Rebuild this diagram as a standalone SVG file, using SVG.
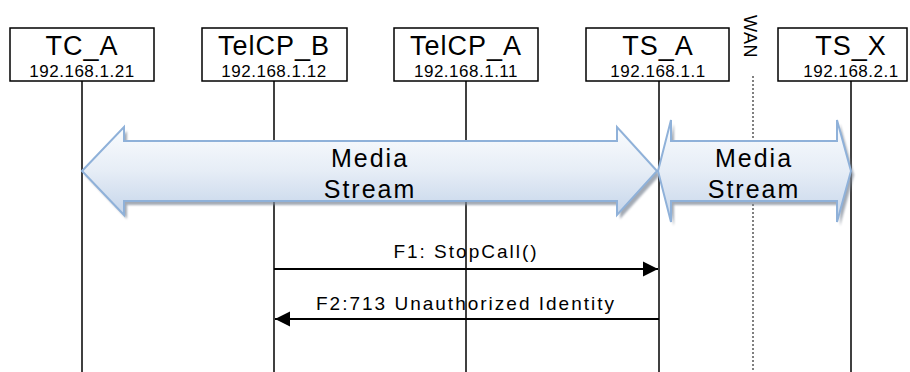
<svg xmlns="http://www.w3.org/2000/svg" width="910" height="372" viewBox="0 0 910 372">
<style>
.box{fill:#fff;stroke:#000;stroke-width:1.5}
.life{stroke:#000;stroke-width:1.5;fill:none}
.t{font-family:"Liberation Sans",Arial,sans-serif;fill:#000;text-anchor:middle}
.name{font-size:27px;letter-spacing:1px}
.ip{font-size:17px;letter-spacing:0.5px}
.ms{font-size:25px;letter-spacing:2px}
.msg{font-size:19px;letter-spacing:2px}
.fat{fill:url(#g);stroke:#8fb1d9;stroke-width:2;stroke-linejoin:miter}
.sh{fill:#7d8796;opacity:0.7;filter:url(#blur)}
.m{stroke:#000;stroke-width:2;fill:none}
</style>
<defs>
<linearGradient id="g" x1="0" y1="0" x2="0" y2="1">
<stop offset="0" stop-color="#fafcfe"/>
<stop offset="0.5" stop-color="#e6edf6"/>
<stop offset="1" stop-color="#c5d5ea"/>
</linearGradient>
<filter id="blur" x="-10%" y="-10%" width="120%" height="120%"><feGaussianBlur stdDeviation="1"/></filter>
<marker id="ah" markerUnits="userSpaceOnUse" markerWidth="16" markerHeight="16" refX="15" refY="8" orient="auto">
<path d="M0,0.5 L15,8 L0,15.5 Z" fill="#000"/>
</marker>
</defs>

<g id="lifelines">
<line class="life" x1="82" y1="81" x2="82" y2="372"/>
<line class="life" x1="274" y1="81" x2="274" y2="372"/>
<line class="life" x1="466" y1="81" x2="466" y2="372"/>
<line class="life" x1="659" y1="81" x2="659" y2="372"/>
<line class="life" x1="851" y1="81" x2="851" y2="372"/>
<line x1="753" y1="76" x2="753" y2="372" stroke="#000" stroke-width="1" stroke-dasharray="2 2"/>
</g>

<g id="TC_A">
<rect class="box" x="10" y="28" width="144" height="53"/>
<text class="t name" x="82" y="55">TC_A</text>
<text class="t ip" x="82" y="77">192.168.1.21</text>
</g>
<g id="TelCP_B">
<rect class="box" x="202" y="28" width="145" height="53"/>
<text class="t name" x="274" y="55">TelCP_B</text>
<text class="t ip" x="274" y="77">192.168.1.12</text>
</g>
<g id="TelCP_A">
<rect class="box" x="394" y="28" width="144" height="53"/>
<text class="t name" x="466" y="55">TelCP_A</text>
<text class="t ip" x="466" y="77">192.168.1.11</text>
</g>
<g id="TS_A">
<rect class="box" x="586" y="28" width="143" height="53"/>
<text class="t name" x="658" y="55">TS_A</text>
<text class="t ip" x="658" y="77">192.168.1.1</text>
</g>
<g id="TS_X">
<rect class="box" x="778" y="28" width="129" height="53"/>
<text class="t name" x="851" y="55">TS_X</text>
<text class="t ip" x="851" y="77">192.168.2.1</text>
</g>
<g id="WAN">
<text class="t" style="font-size:18px;letter-spacing:0.5px" transform="translate(744,36.5) rotate(90)">WAN</text>
</g>

<g id="media1">
<path class="sh" transform="translate(3,4)" d="M82,171 L124,127 L124,141 L617,141 L617,127 L657,171 L617,215 L617,201 L124,201 L124,215 Z"/>
<path class="fat" d="M82,171 L124,127 L124,141 L617,141 L617,127 L657,171 L617,215 L617,201 L124,201 L124,215 Z"/>
<text class="t ms" x="370" y="167">Media</text>
<text class="t ms" x="370" y="198">Stream</text>
</g>
<g id="media2">
<path class="sh" transform="translate(3,4)" d="M658,171 L671,120 L671,141 L837,141 L837,120 L851,171 L837,222 L837,201 L671,201 L671,222 Z"/>
<path class="fat" d="M658,171 L671,120 L671,141 L837,141 L837,120 L851,171 L837,222 L837,201 L671,201 L671,222 Z"/>
<text class="t ms" x="754" y="167">Media</text>
<text class="t ms" x="754" y="198">Stream</text>
</g>

<g id="connectors">
<line class="m" x1="274" y1="269" x2="658" y2="269" marker-end="url(#ah)"/>
<text class="t msg" x="466" y="258">F1: StopCall()</text>
<line class="m" x1="659" y1="319" x2="275" y2="319" marker-end="url(#ah)"/>
<text class="t msg" x="466" y="310">F2:713 Unauthorized Identity</text>
</g>
</svg>
